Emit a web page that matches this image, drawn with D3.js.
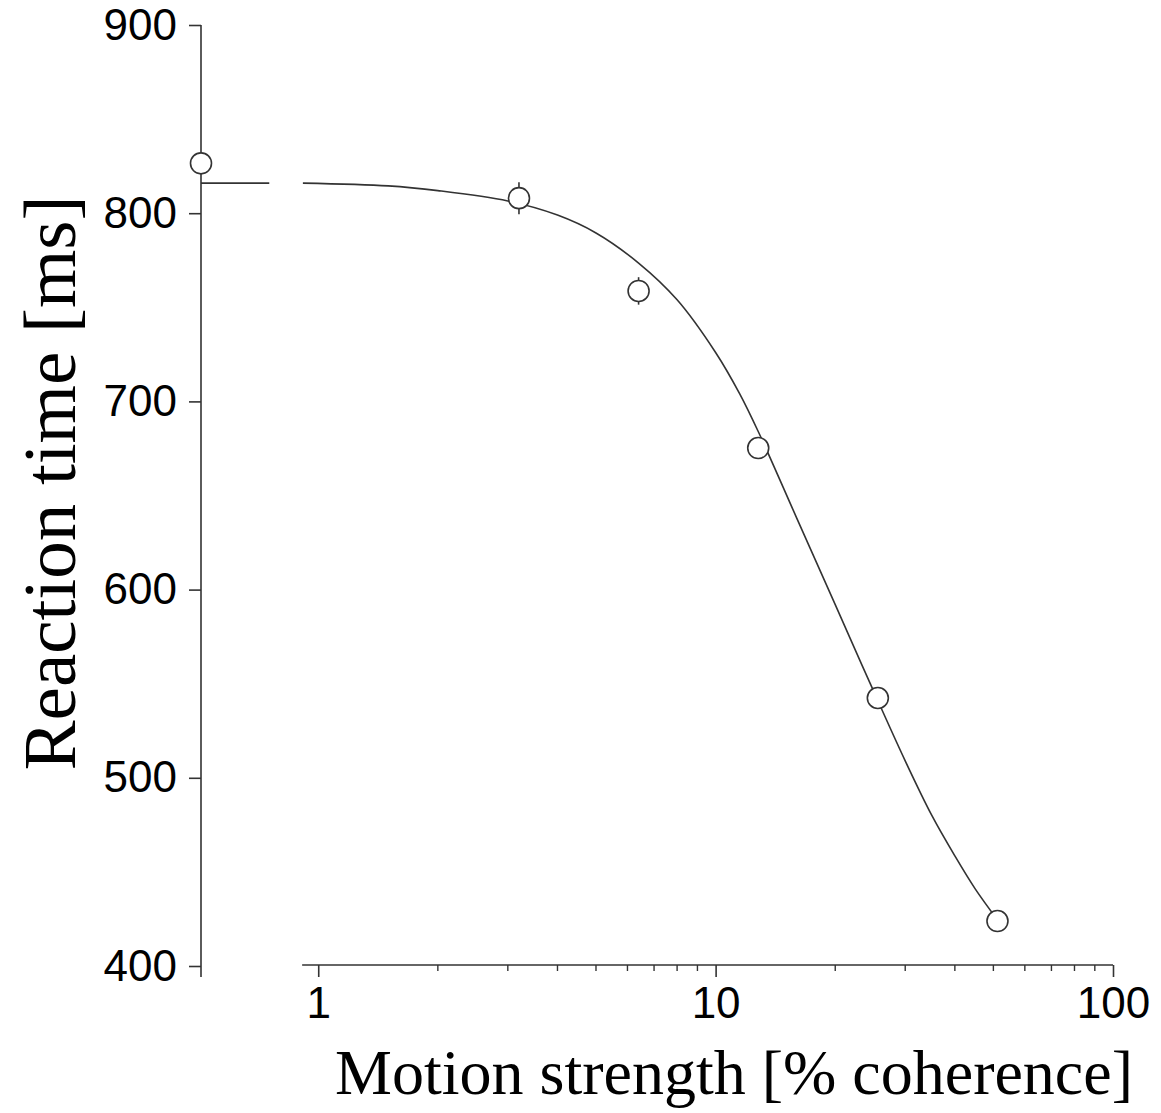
<!DOCTYPE html>
<html>
<head>
<meta charset="utf-8">
<script src="https://cdn.jsdelivr.net/npm/d3@7"></script>
<style>
  html, body { margin: 0; padding: 0; background: #fff; }
  svg { display: block; }
</style>
</head>
<body>
<svg id="chart" width="1161" height="1113"></svg>
<script>
// ---- data ----
const coherence = [0, 3.2, 6.4, 12.8, 25.6, 51.2];          // % coherence
const rtMean    = [826.5, 808, 758.7, 675.2, 542.4, 423.9]; // ms
const rtSem     = [4, 8.5, 7.3, 4, 4, 3];                   // ms
// fitted curve
const fitCoh = [0.915, 1.5, 2.0, 3.0, 4.0, 5.0, 6.4, 8.0, 10.0, 11.5, 12.8, 16.0, 20.0, 24.5, 30.0, 35.0, 40.0, 45.0, 51.2];
const fitRT  = [816.0, 814.5, 812.0, 806.5, 799.0, 789.5, 773.5, 754.0, 726.0, 704.0, 684.0, 638.0, 592.0, 550.0, 509.0, 480.0, 458.5, 441.0, 424.5];
const fitZeroRT = 816.0; // fit value at 0% coherence
const xTickValues = [1, 10, 100];
const xTickLabels = ["1", "10", "100"];
const xMinorTicks = [2,3,4,5,6,7,8,9,20,30,40,50,60,70,80,90];
const yTickValues = [400, 500, 600, 700, 800, 900];
const yTickLabels = ["400", "500", "600", "700", "800", "900"];

// ---- layout ----
const svg = d3.select("#chart");
const ink = "#333";
const x = d3.scaleLog().domain([0.507, 100]).range([201, 1113]);
const y = d3.scaleLinear().domain([400, 900]).range([966, 25]);
const zeroX = x.domain()[0];
const xAxisStart = 0.911;  // x axis begins after the break
const breakEnd = 0.753;    // end of the 0% segment

// y axis
const yAxis = d3.axisLeft(y).tickValues(yTickValues)
  .tickFormat((d, i) => yTickLabels[i]).tickSize(12).tickSizeOuter(0).tickPadding(12);
const gy = svg.append("g").attr("transform", `translate(${x(zeroX)},0)`).call(yAxis);
gy.select(".domain").remove();
gy.append("line").attr("x1", 0).attr("x2", 0).attr("y1", y(900)).attr("y2", y(400) + 11)
  .attr("stroke", ink).attr("stroke-width", 1.6);
gy.selectAll(".tick line").attr("stroke", ink).attr("stroke-width", 1.6);
gy.selectAll(".tick text").attr("fill", "#000")
  .style("font-family", "'Liberation Sans', Arial, sans-serif").style("font-size", "44px");

// x axis
const xAxis = d3.axisBottom(x).tickValues(xTickValues)
  .tickFormat((d, i) => xTickLabels[i]).tickSize(12).tickSizeOuter(0).tickPadding(10);
const gx = svg.append("g").attr("transform", `translate(0,${y(400) - 1})`).call(xAxis);
gx.select(".domain").remove();
gx.append("line").attr("x1", x(xAxisStart)).attr("x2", x(100)).attr("y1", 0).attr("y2", 0)
  .attr("stroke", ink).attr("stroke-width", 1.6);
gx.selectAll(".tick line").attr("stroke", ink).attr("stroke-width", 1.6);
gx.selectAll(".tick text").attr("fill", "#000")
  .style("font-family", "'Liberation Sans', Arial, sans-serif").style("font-size", "44px");
gx.selectAll(".minor").data(xMinorTicks).enter().append("line")
  .attr("class", "minor")
  .attr("x1", d => x(d)).attr("x2", d => x(d)).attr("y1", 0).attr("y2", 6)
  .attr("stroke", ink).attr("stroke-width", 1.4);

// fit: 0% segment
svg.append("line")
  .attr("x1", x(zeroX)).attr("x2", x(breakEnd))
  .attr("y1", y(fitZeroRT)).attr("y2", y(fitZeroRT))
  .attr("stroke", ink).attr("stroke-width", 1.6);

// fit curve
const fitPts = fitCoh.map((c, i) => [x(c), y(fitRT[i])]);
svg.append("path")
  .attr("d", d3.line().curve(d3.curveCatmullRom.alpha(0.5))(fitPts))
  .attr("fill", "none").attr("stroke", ink).attr("stroke-width", 1.6);

// data points
const pts = coherence.map((c, i) => ({ c: c === 0 ? zeroX : c, m: rtMean[i], s: rtSem[i] }));
svg.selectAll(".err").data(pts).enter().append("line")
  .attr("class", "err")
  .attr("x1", d => x(d.c)).attr("x2", d => x(d.c))
  .attr("y1", d => y(d.m + d.s)).attr("y2", d => y(d.m - d.s))
  .attr("stroke", ink).attr("stroke-width", 1.6);
svg.selectAll(".pt").data(pts).enter().append("circle")
  .attr("class", "pt")
  .attr("cx", d => x(d.c)).attr("cy", d => y(d.m)).attr("r", 10.5)
  .attr("fill", "#fff").attr("stroke", ink).attr("stroke-width", 1.6);

// axis titles
svg.append("text")
  .attr("x", 734).attr("y", 1094)
  .attr("text-anchor", "middle")
  .style("font-family", "'Liberation Serif', 'Times New Roman', serif")
  .style("font-size", "64px").attr("fill", "#000")
  .text("Motion strength [% coherence]");
svg.append("text")
  .attr("transform", "translate(75,483) rotate(-90)")
  .attr("text-anchor", "middle")
  .style("font-family", "'Liberation Serif', 'Times New Roman', serif")
  .style("font-size", "75px").attr("fill", "#000")
  .text("Reaction time [ms]");
</script>
</body>
</html>
